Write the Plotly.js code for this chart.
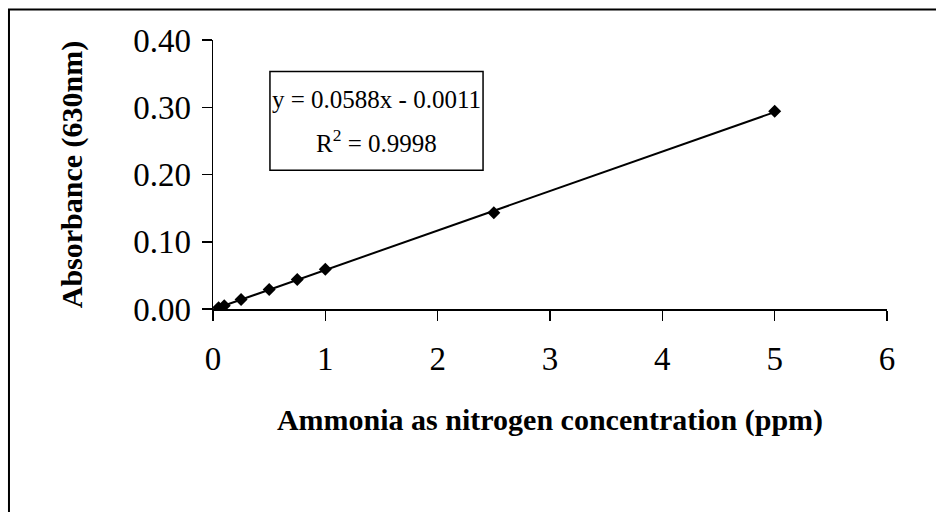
<!DOCTYPE html>
<html>
<head>
<meta charset="utf-8">
<script src="https://cdn.plot.ly/plotly-3.0.1.min.js"></script>
<style>
  html, body { margin: 0; padding: 0; background: #fff; }
  #chart { width: 936px; height: 512px; }
</style>
</head>
<body>
<div id="chart"></div>
<script>
// Ammonia as nitrogen concentration (ppm)
const concentration = [0.05, 0.1, 0.25, 0.5, 0.75, 1, 2.5, 5];
// Absorbance at 630 nm
const absorbance = [0.002, 0.005, 0.014, 0.029, 0.044, 0.059, 0.143, 0.294];
const equationText = "y = 0.0588x - 0.0011";
const r2Text = "R<sup>2</sup> = 0.9998";
const xTicks = [0, 1, 2, 3, 4, 5, 6];
const yTicks = [0, 0.1, 0.2, 0.3, 0.4];

// least-squares linear trendline from the data
const n = concentration.length;
const mx = concentration.reduce((a, b) => a + b, 0) / n;
const my = absorbance.reduce((a, b) => a + b, 0) / n;
let sxy = 0, sxx = 0;
for (let i = 0; i < n; i++) {
  sxy += (concentration[i] - mx) * (absorbance[i] - my);
  sxx += (concentration[i] - mx) * (concentration[i] - mx);
}
const slope = sxy / sxx;
const intercept = my - slope * mx;
const xMin = Math.min(...concentration), xMax = Math.max(...concentration);
const trendX = [xMin, xMax];
const trendY = trendX.map(v => slope * v + intercept);

const FONT = "Liberation Serif, Times New Roman, serif";

const traces = [
  {
    x: trendX, y: trendY, mode: "lines", type: "scatter",
    line: { color: "#000", width: 2 }, hoverinfo: "skip", showlegend: false
  },
  {
    x: concentration, y: absorbance, mode: "markers", type: "scatter",
    marker: { symbol: "diamond", size: 10, color: "#000" }, showlegend: false
  }
];

const layout = {
  width: 936, height: 512,
  margin: { l: 213, r: 49, t: 39.5, b: 203, pad: 0 },
  paper_bgcolor: "#fff", plot_bgcolor: "#fff",
  font: { family: FONT, color: "#000", size: 33 },
  showlegend: false,
  xaxis: {
    range: [0, 6], tickvals: xTicks, ticktext: xTicks.map(String),
    showgrid: false, zeroline: false,
    showline: true, linecolor: "#000", linewidth: 1.5,
    ticks: "outside", ticklen: 10, tickwidth: 1.5, tickcolor: "#000",
    ticklabelstandoff: 10,
    tickfont: { family: FONT, size: 33, color: "#000" },
    title: { text: "<b>Ammonia as nitrogen concentration (ppm)</b>", font: { family: FONT, size: 30, color: "#000" }, standoff: 33 }
  },
  yaxis: {
    range: [0, 0.4], tickvals: yTicks, ticktext: yTicks.map(v => v.toFixed(2)),
    showgrid: false, zeroline: false,
    showline: true, linecolor: "#000", linewidth: 1.5,
    ticks: "outside", ticklen: 10, tickwidth: 1.5, tickcolor: "#000",
    ticklabelstandoff: 4,
    tickfont: { family: FONT, size: 33, color: "#000" },
    title: { text: "<b>Absorbance (630nm)</b>", font: { family: FONT, size: 30, color: "#000" }, standoff: 41 }
  },
  shapes: [
    { type: "rect", xref: "paper", yref: "paper", x0: -0.3027, x1: 1.08, y0: -0.77, y1: 1.113,
      line: { color: "#000", width: 2 }, fillcolor: "rgba(0,0,0,0)", layer: "above" },
    { type: "rect", xref: "x", yref: "y", x0: 0.507, x1: 2.404, y0: 0.2062, y1: 0.3531,
      line: { color: "#000", width: 1.5 }, fillcolor: "#fff", layer: "below" }
  ],
  annotations: [
    { xref: "x", yref: "y", x: 1.455, y: 0.311, text: equationText, showarrow: false,
      font: { family: FONT, size: 25, color: "#000" }, xanchor: "center", yanchor: "middle" },
    { xref: "x", yref: "y", x: 1.455, y: 0.250, text: r2Text, showarrow: false,
      font: { family: FONT, size: 25, color: "#000" }, xanchor: "center", yanchor: "middle" }
  ]
};

Plotly.newPlot("chart", traces, layout, { displayModeBar: false, staticPlot: true });
</script>
</body>
</html>
